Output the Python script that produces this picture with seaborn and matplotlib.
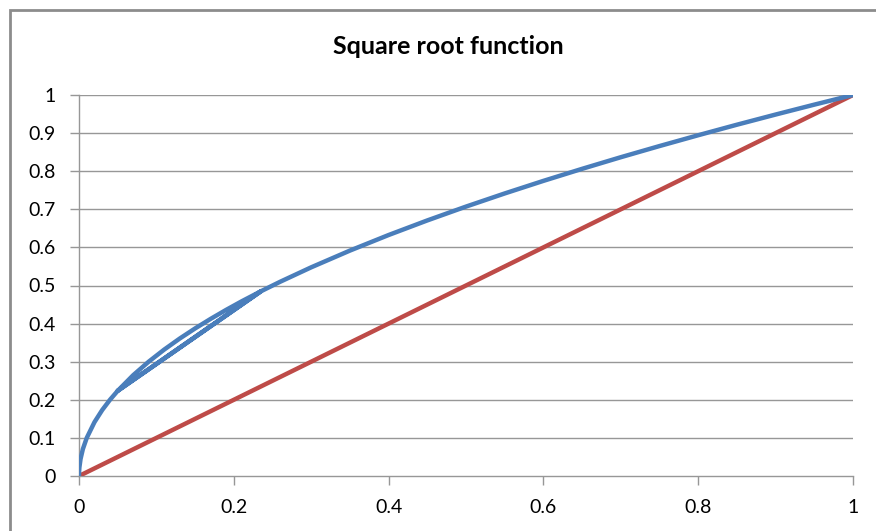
import matplotlib
matplotlib.use("Agg")
import matplotlib.pyplot as plt
import seaborn as sns
from matplotlib.patches import Rectangle

# Data
sqrt_x = [0, 0.0001, 0.0005, 0.002, 0.005, 0.01, 0.02, 0.03, 0.04, 0.05,
          0.07, 0.09, 0.11, 0.13, 0.15, 0.17, 0.19, 0.21, 0.235,
          0.05, 0.235,
          0.26, 0.3, 0.35, 0.4, 0.45, 0.5, 0.55, 0.6, 0.65, 0.7, 0.75,
          0.8, 0.85, 0.9, 0.95, 1.0]
sqrt_y = [0, 0.01, 0.0224, 0.0447, 0.0707, 0.1, 0.1414, 0.1732, 0.2, 0.2236,
          0.2646, 0.3, 0.3317, 0.3606, 0.3873, 0.4123, 0.4359, 0.4583, 0.4848,
          0.2236, 0.4848,
          0.5099, 0.5477, 0.5916, 0.6325, 0.6708, 0.7071, 0.7416, 0.7746,
          0.8062, 0.8367, 0.8660, 0.8944, 0.9220, 0.9487, 0.9747, 1.0]
line_x = [0, 1]
line_y = [0, 1]
x_ticks = [0, 0.2, 0.4, 0.6, 0.8, 1]
y_ticks = [0, 0.1, 0.2, 0.3, 0.4, 0.5, 0.6, 0.7, 0.8, 0.9, 1]
x_labels = ["0", "0.2", "0.4", "0.6", "0.8", "1"]
y_labels = ["0", "0.1", "0.2", "0.3", "0.4", "0.5", "0.6", "0.7", "0.8", "0.9", "1"]
title = "Square root function"

sns.set_style("white")
plt.rcParams['font.family'] = ['Lato', 'DejaVu Sans']

W, H = 876, 531
fig = plt.figure(figsize=(W / 100, H / 100), dpi=100)
fig.patch.set_facecolor("white")

# chart border (top and left visible)
fig.patches.append(Rectangle((10 / W, -0.05), 1.2, 1 - 10 / H + 0.05,
                             transform=fig.transFigure, fill=False,
                             edgecolor="#8c8c8c", linewidth=2))

ax = fig.add_axes([79 / W, 1 - 476 / H, (853 - 79) / W, (476 - 95) / H])
ax.set_facecolor("white")

grid_c = "#979797"
for yv in y_ticks[1:]:
    ax.axhline(yv, color=grid_c, linewidth=1, zorder=0)

sns.lineplot(x=line_x, y=line_y, sort=False, estimator=None, ax=ax,
             color="#BE4B48", linewidth=3.2, zorder=3)
sns.lineplot(x=sqrt_x, y=sqrt_y, sort=False, estimator=None, ax=ax,
             color="#4A7EBB", linewidth=3.2, zorder=4)

ax.set_xlim(0, 1)
ax.set_ylim(0, 1)
ax.set_xticks(x_ticks)
ax.set_xticklabels(x_labels)
ax.set_yticks(y_ticks)
ax.set_yticklabels(y_labels)

for s in ["top", "right"]:
    ax.spines[s].set_visible(False)
for s in ["left", "bottom"]:
    ax.spines[s].set_color(grid_c)
    ax.spines[s].set_linewidth(1)

ax.tick_params(axis="x", direction="out", length=6.5, width=1, color=grid_c,
               labelsize=14, pad=10, labelcolor="black", bottom=True)
ax.tick_params(axis="y", direction="out", length=6.5, width=1, color=grid_c,
               labelsize=14, pad=10, labelcolor="black", left=True)

fig.text(448 / W, 1 - 47 / H, title, ha="center", va="center",
         fontsize=18, fontweight="bold", color="black")

fig.savefig("out.png", dpi=100)
